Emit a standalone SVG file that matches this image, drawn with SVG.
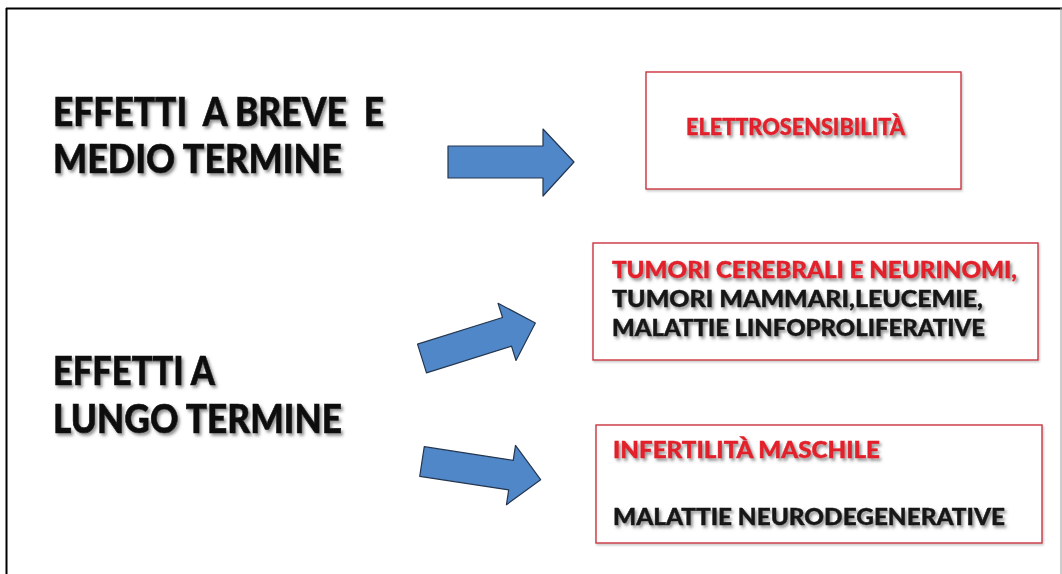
<svg xmlns="http://www.w3.org/2000/svg" width="1062" height="574" viewBox="0 0 1062 574">
<defs>
<style>
.big{font-family:Lato,"Liberation Sans",sans-serif;font-weight:900;font-size:39px;fill:#111;stroke:#111;stroke-width:0.6;white-space:pre;filter:url(#sh)}
.sm{font-family:Lato,"Liberation Sans",sans-serif;font-weight:900;font-size:22px;stroke-width:0.4;white-space:pre;filter:url(#sh)}
.red{fill:#e2202c;stroke:#e2202c}
.blk{fill:#151515;stroke:#151515}
.box{fill:#fff;stroke:#cc3440;stroke-width:1.4}
.arrow{fill:#5087c8;stroke:#24364f;stroke-width:1.2;stroke-linejoin:round}
</style>
<filter id="sh" x="-5%" y="-30%" width="110%" height="170%">
<feDropShadow dx="2" dy="2.5" stdDeviation="1.5" flood-color="#555" flood-opacity="0.65"/>
</filter>
<filter id="bsh" x="-5%" y="-5%" width="110%" height="115%">
<feDropShadow dx="1" dy="1.5" stdDeviation="1" flood-color="#888" flood-opacity="0.5"/>
</filter>
<path id="arr" d="M0,-15 H90 V-30 L120,0 L90,30 V15 H0 Z"/>
</defs>
<rect x="0" y="0" width="1062" height="574" fill="#fff"/>
<g id="frame" fill="none">
<line x1="6.5" y1="8" x2="6.5" y2="574" stroke="#000" stroke-width="2"/>
<line x1="6" y1="8.5" x2="1062" y2="8.5" stroke="#000" stroke-width="2"/>
<line x1="1061" y1="8" x2="1061" y2="574" stroke="#999" stroke-width="1"/>
</g>
<g id="left-short">
<text class="big" x="53" y="126" xml:space="preserve" textLength="331" lengthAdjust="spacingAndGlyphs">EFFETTI  A BREVE  E</text>
<text class="big" x="53" y="173" textLength="289" lengthAdjust="spacingAndGlyphs">MEDIO TERMINE</text>
</g>
<g id="left-long">
<text class="big" x="53" y="385" textLength="162" lengthAdjust="spacingAndGlyphs">EFFETTI A</text>
<text class="big" x="53" y="433" textLength="289" lengthAdjust="spacingAndGlyphs">LUNGO TERMINE</text>
</g>
<g id="connectors">
<path class="arrow" d="M448,146 H543 V129 L574,162 L543,196 V178 H448 Z"/>
<g transform="translate(422,358.5) rotate(-17.4) scale(0.99,1)"><use href="#arr" class="arrow"/></g>
<g transform="translate(422,461.5) rotate(8.7)"><use href="#arr" class="arrow"/></g>
</g>
<g id="box-elettro">
<rect class="box" x="646" y="72" width="315" height="117" filter="url(#bsh)"/>
<text class="sm red" x="686" y="135" textLength="219" lengthAdjust="spacingAndGlyphs">ELETTROSENSIBILITÀ</text>
</g>
<g id="box-tumori">
<rect class="box" x="593" y="243" width="445" height="117" filter="url(#bsh)"/>
<text class="sm red" x="612" y="278" textLength="405" lengthAdjust="spacingAndGlyphs">TUMORI CEREBRALI E NEURINOMI,</text>
<text class="sm blk" x="612" y="307" textLength="371" lengthAdjust="spacingAndGlyphs">TUMORI MAMMARI,LEUCEMIE,</text>
<text class="sm blk" x="612" y="336" textLength="373" lengthAdjust="spacingAndGlyphs">MALATTIE LINFOPROLIFERATIVE</text>
</g>
<g id="box-infertilita">
<rect class="box" x="596" y="425" width="446" height="118" filter="url(#bsh)"/>
<text class="sm red" x="613" y="458" textLength="267" lengthAdjust="spacingAndGlyphs">INFERTILITÀ MASCHILE</text>
<text class="sm blk" x="613" y="525" textLength="392" lengthAdjust="spacingAndGlyphs">MALATTIE NEURODEGENERATIVE</text>
</g>
</svg>
